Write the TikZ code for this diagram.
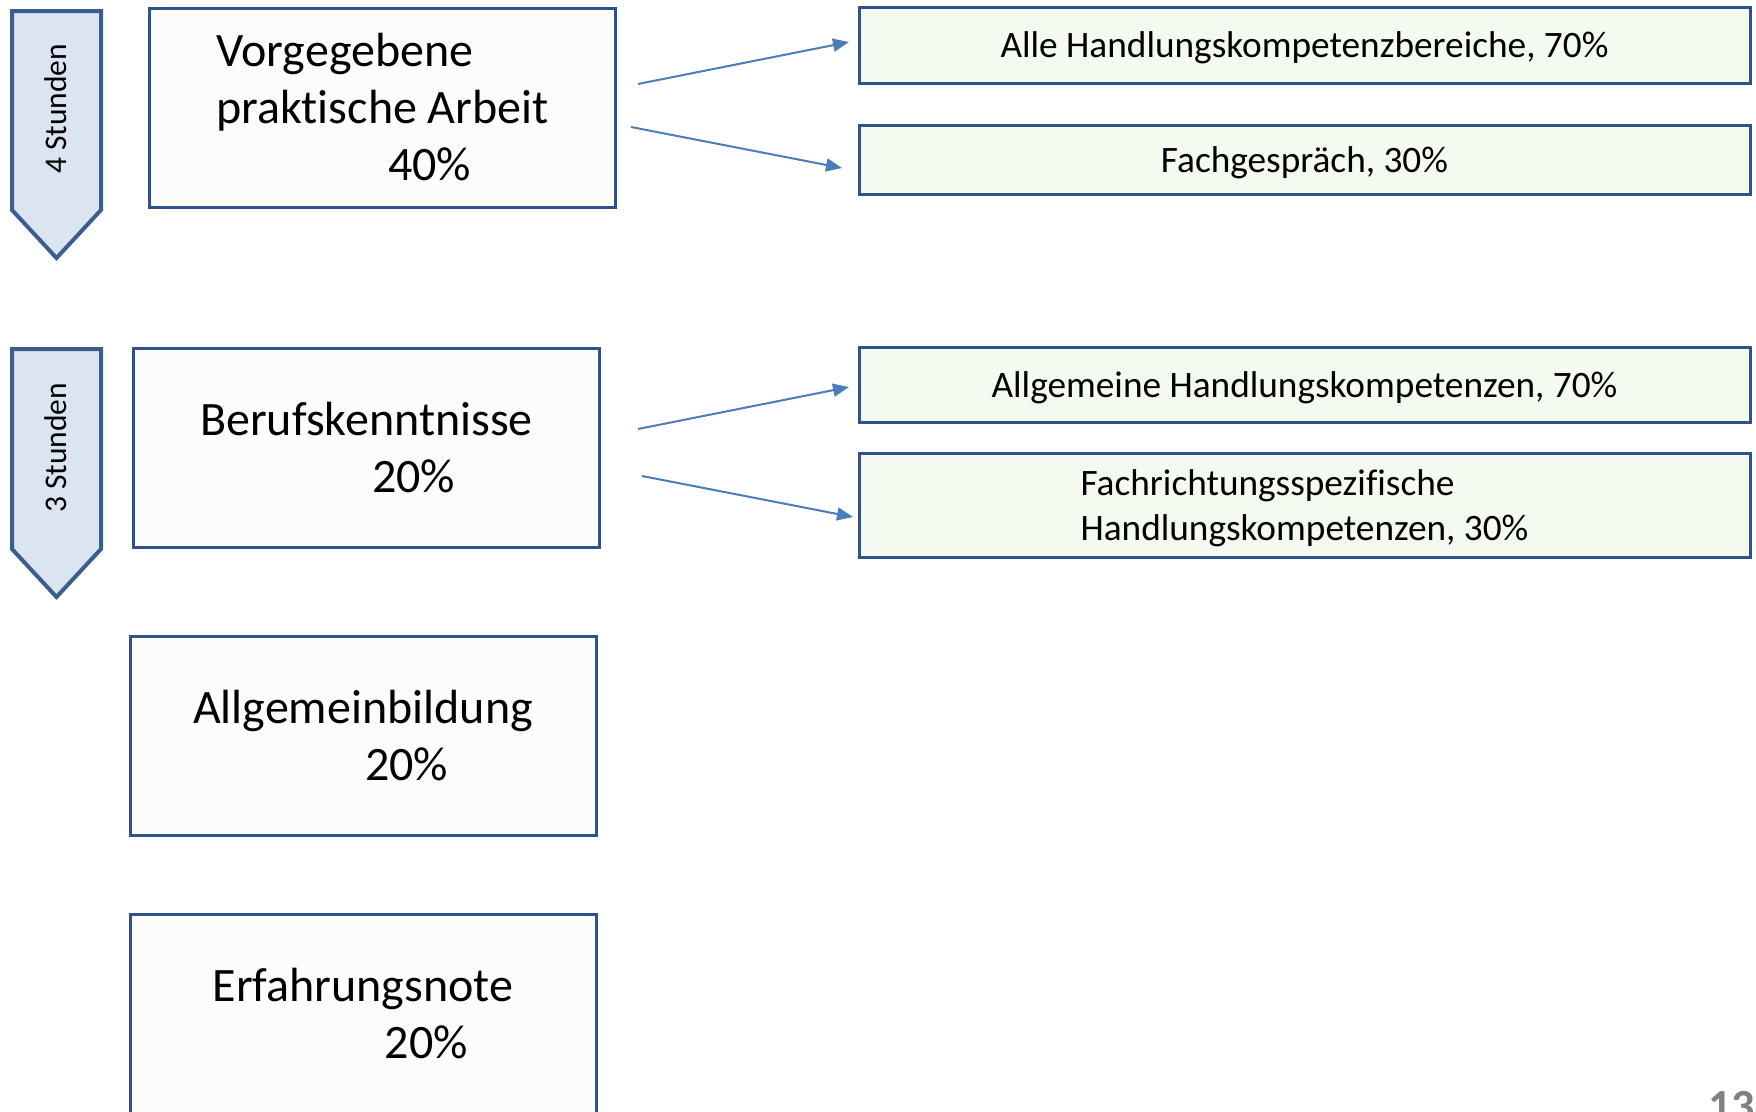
\documentclass[tikz,border=0pt]{standalone}
\usepackage{fontspec}
\setmainfont[Ligatures=NoCommon]{Carlito}
\usetikzlibrary{arrows.meta}
\definecolor{FrameClr}{rgb}{0.18,0.32,0.55}
\definecolor{TimeClr}{rgb}{0.23,0.37,0.56}
\definecolor{TimeFill}{rgb}{0.86,0.90,0.95}
\definecolor{PartFill}{rgb}{0.96,0.98,0.94}
\definecolor{MainFill}{rgb}{0.99,0.99,0.99}
\definecolor{ArrowClr}{rgb}{0.29,0.49,0.73}
\definecolor{PageClr}{rgb}{0.5,0.5,0.5}

\begin{document}
\begin{tikzpicture}[x=1pt,y=-1pt,
  mainbox/.style={draw=FrameClr,line width=3pt,fill=MainFill,align=left,inner sep=0pt,
    minimum width=466pt,minimum height=199pt,font=\fontsize{48}{57}\selectfont},
  partbox/.style={draw=FrameClr,line width=3pt,fill=PartFill,align=left,inner sep=0pt,
    minimum width=891pt,text depth=0pt,font=\fontsize{37.3}{45}\selectfont},
  timebox/.style={draw=TimeClr,line width=4pt,fill=TimeFill},
  timelabel/.style={rotate=90,inner sep=0pt,font=\fontsize{31.5}{38}\selectfont},
  link/.style={ArrowClr,line width=2pt,-{Triangle[length=16pt,width=13pt]}}]
\useasboundingbox (0,0) rectangle (1756,1111);

\draw[timebox] (12,11) -- (101,11) -- (101,210) -- (56.5,258) -- (12,210) -- cycle;
\draw[timebox] (12,349) -- (101,349) -- (101,549) -- (56.5,597) -- (12,549) -- cycle;
\node[timelabel] (vier) at (56,109) {4 Stunden};
\node[timelabel] (drei) at (56,448) {3 Stunden};

\node[mainbox] (arbeit) at (382.5,107.5) {Vorgegebene\\praktische Arbeit\\\hspace*{172pt}40\%};
\node[mainbox] (beruf) at (366.5,448) {Berufskenntnisse\\\hspace*{172pt}20\%};
\node[mainbox] (allg) at (363,736) {Allgemeinbildung\\\hspace*{172pt}20\%};
\node[mainbox] (erfahrung) at (363,1014) {Erfahrungsnote\\\hspace*{172pt}20\%};

\node[partbox,minimum height=76pt] (alle) at (1304.5,45) {Alle Handlungskompetenzbereiche, 70\%};
\node[partbox,minimum height=69pt] (gespraech) at (1304.5,160) {Fachgespräch, 30\%};
\node[partbox,minimum height=75pt] (allgkomp) at (1304.5,385) {Allgemeine Handlungskompetenzen, 70\%};
\node[partbox,minimum height=104pt] (fachkomp) at (1304.5,505.5) {Fachrichtungsspezifische\\Handlungskompetenzen, 30\%};

\coordinate (s1) at (638,84);
\coordinate (e1) at (849,42);
\coordinate (s2) at (631,127);
\coordinate (e2) at (842,168);
\coordinate (s3) at (638,429);
\coordinate (e3) at (849,387);
\coordinate (s4) at (642,476);
\coordinate (e4) at (853,517);
\draw[link] (s1) -- (e1);
\draw[link] (s2) -- (e2);
\draw[link] (s3) -- (e3);
\draw[link] (s4) -- (e4);

\node[anchor=base east,inner sep=0pt,text=PageClr,font=\fontsize{46}{50}\selectfont\bfseries] (seite) at (1755,1121) {13};
\end{tikzpicture}
\end{document}
